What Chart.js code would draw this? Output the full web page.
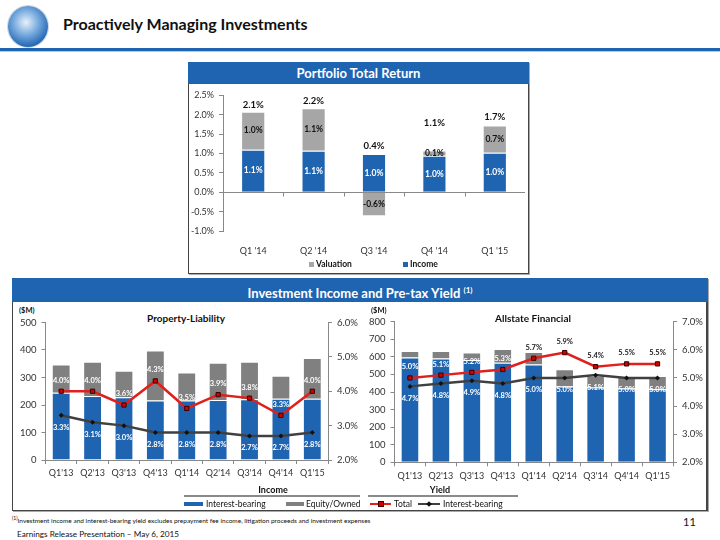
<!DOCTYPE html>
<html>
<head>
<meta charset="utf-8">
<script src="https://cdn.jsdelivr.net/npm/chart.js@4.4.1/dist/chart.umd.min.js"></script>
<style>
body { margin: 0; width: 720px; height: 540px; position: relative; background: #fff; font-family: Lato, sans-serif; overflow: hidden; color: #111; }
.abs { position: absolute; }
.band { background: #1F64B0; color: #fff; font-weight: bold; font-size: 13px; text-align: center; }
.box { border: 1px solid #444; box-shadow: 1px 1px 0 #aaa; }
.lbl { font-size: 8.5px; white-space: nowrap; line-height: 10px; }
.ctitle { font-weight: bold; font-size: 10px; white-space: nowrap; }
</style>
</head>
<body>

<div class="abs" style="left:8px;top:6px;width:40px;height:41px;border-radius:50%;background:radial-gradient(circle at 45% 40%, #e8f1fb 0%, #7fb0e0 35%, #2a6db8 70%, #17508f 100%);box-shadow:0 0 0 1px #c9d6e4;"></div>
<div class="abs" style="left:63px;top:14px;font-size:16px;font-weight:bold;white-space:nowrap;">Proactively Managing Investments</div>
<div class="abs" style="left:0;top:48px;width:720px;height:3px;background:#1F64B0"></div>
<div class="abs" style="left:0;top:51px;width:720px;height:1px;background:#c8c8c8"></div>

<!-- portfolio total return -->
<div class="abs box" style="left:188px;top:62px;width:339px;height:210px;"></div>
<div class="abs band" style="left:188px;top:62px;width:341px;height:22px;line-height:22px;">Portfolio Total Return</div>
<canvas id="returnChart" class="abs" style="left:190px;top:85px" width="337" height="187"></canvas>
<div class="abs" style="left:309px;top:262px;width:5px;height:5px;background:#A6A6A6"></div>
<div class="abs lbl" style="left:316px;top:259px;font-weight:bold;">Valuation</div>
<div class="abs" style="left:403px;top:262px;width:5px;height:5px;background:#1F64B0"></div>
<div class="abs lbl" style="left:410px;top:259px;font-weight:bold;">Income</div>

<!-- investment income and yield -->
<div class="abs box" style="left:12px;top:278px;width:693px;height:231px;border-right-width:2px;"></div>
<div class="abs band" style="left:12px;top:278px;width:696px;height:24px;line-height:24px;">Investment Income and Pre-tax Yield <sup style="font-size:8px;">(1)</sup></div>

<div class="abs" style="left:19px;top:306px;font-size:7.5px;font-weight:bold;">($M)</div>
<div class="abs ctitle" style="left:186px;top:312px;transform:translateX(-50%);">Property-Liability</div>
<canvas id="plChart" class="abs" style="left:14px;top:303px" width="350" height="183"></canvas>

<div class="abs" style="left:371px;top:306px;font-size:7.5px;font-weight:bold;">($M)</div>
<div class="abs ctitle" style="left:533px;top:312px;transform:translateX(-50%);">Allstate Financial</div>
<canvas id="afChart" class="abs" style="left:362px;top:303px" width="344" height="186"></canvas>

<div class="abs" style="left:273px;top:484px;transform:translateX(-50%);font-size:9px;font-weight:bold;">Income</div>
<div class="abs" style="left:184px;top:495px;width:176px;height:2px;background:#8a8a8a"></div>
<div class="abs" style="left:440px;top:484px;transform:translateX(-50%);font-size:9px;font-weight:bold;">Yield</div>
<div class="abs" style="left:368px;top:495px;width:150px;height:2px;background:#8a8a8a"></div>

<div class="abs" style="left:184px;top:502px;width:19px;height:4px;background:#1F64B0"></div>
<div class="abs lbl" style="left:206px;top:499px;">Interest-bearing</div>
<div class="abs" style="left:286px;top:502px;width:18px;height:4px;background:#808080"></div>
<div class="abs lbl" style="left:306px;top:499px;">Equity/Owned</div>
<div class="abs" style="left:370px;top:503px;width:21px;height:2px;background:#E0201B"></div>
<div class="abs" style="left:378px;top:501px;width:4px;height:4px;background:#D00000;border:1px solid #400"></div>
<div class="abs lbl" style="left:394px;top:499px;">Total</div>
<div class="abs" style="left:418px;top:503px;width:22px;height:2px;background:#404040"></div>
<div class="abs" style="left:427px;top:502px;width:4px;height:4px;background:#111;transform:rotate(45deg)"></div>
<div class="abs lbl" style="left:443px;top:499px;">Interest-bearing</div>

<div class="abs" style="left:12px;top:515px;font-size:6.5px;white-space:nowrap;"><sup style="font-size:5px;">(1)</sup>Investment income and interest-bearing yield excludes prepayment fee income, litigation proceeds and investment expenses</div>
<div class="abs" style="left:683px;top:515px;font-size:11px;">11</div>
<div class="abs" style="left:17px;top:529px;font-size:8.2px;white-space:nowrap;">Earnings Release Presentation – May 6, 2015</div>

<script>
// portfolio total return (%)
var returnQuarters = ["Q1 '14", "Q2 '14", "Q3 '14", "Q4 '14", "Q1 '15"];
var incomeReturn = [1.10, 1.07, 0.99, 0.94, 1.02];
var valuationReturn = [0.98, 1.10, -0.62, 0.14, 0.70];
var incomeLabels = ['1.1%', '1.1%', '1.0%', '1.0%', '1.0%'];
var valuationLabels = ['1.0%', '1.1%', '-0.6%', '0.1%', '0.7%'];
var totalLabels = ['2.1%', '2.2%', '0.4%', '1.1%', '1.7%'];

// investment income ($M) and yield (%)
var yieldQuarters = ["Q1'13", "Q2'13", "Q3'13", "Q4'13", "Q1'14", "Q2'14", "Q3'14", "Q4'14", "Q1'15"];
var plInterestIncome = [245, 233, 228, 216, 216, 218, 221, 223, 223];
var plEquityIncome = [102, 124, 97, 182, 102, 136, 136, 83, 148];
var plTotalYield = [4.0, 4.0, 3.6, 4.3, 3.5, 3.9, 3.8, 3.3, 4.0];
var plInterestYield = [3.3, 3.1, 3.0, 2.8, 2.8, 2.8, 2.7, 2.7, 2.8];
var afInterestIncome = [597, 590, 582, 567, 556, 432, 426, 420, 415];
var afEquityIncome = [36, 43, 43, 78, 71, 97, 66, 70, 76];
var afTotalYield = [5.0, 5.1, 5.2, 5.3, 5.7, 5.9, 5.4, 5.5, 5.5];
var afInterestYield = [4.7, 4.8, 4.9, 4.8, 5.0, 5.0, 5.1, 5.0, 5.0];

var BLUE = '#1F64B0';
var AXIS = '#888888';
Chart.defaults.font.family = 'Lato';
Chart.defaults.color = '#333';
Chart.defaults.animation = false;

function pct(v) { return v.toFixed(1) + '%'; }

// writes value text on bars and points, plus stack totals
var textPlugin = {
    id: 'textPlugin',
    afterDatasetsDraw: function(chart, args, opts) {
        var ctx = chart.ctx;
        chart.data.datasets.forEach(function(ds, di) {
            var t = ds.valueText;
            if (!t) return;
            var meta = chart.getDatasetMeta(di);
            ctx.save();
            ctx.font = t.font;
            ctx.textAlign = 'center';
            ctx.textBaseline = 'middle';
            meta.data.forEach(function(el, i) {
                var y = t.centered ? (el.y + el.base) / 2 : el.y + t.dy;
                ctx.fillStyle = Array.isArray(t.color) ? t.color[i] : t.color;
                ctx.fillText(t.texts[i], el.x, y);
            });
            ctx.restore();
        });
        if (opts && opts.totals) {
            ctx.save();
            ctx.font = opts.font;
            ctx.fillStyle = '#111';
            ctx.textAlign = 'center';
            ctx.textBaseline = 'middle';
            opts.totals.forEach(function(txt, i) {
                var top = Infinity, x = 0;
                chart.data.datasets.forEach(function(ds, di) {
                    var el = chart.getDatasetMeta(di).data[i];
                    top = Math.min(top, el.y, el.base);
                    x = el.x;
                });
                ctx.fillText(txt, x, top - opts.lift - (opts.extraLift[i] || 0));
            });
            ctx.restore();
        }
    }
};

// zero line with category ticks for the return chart
var zeroLinePlugin = {
    id: 'zeroLine',
    beforeDatasetsDraw: function(chart) {
        var xs = chart.scales.x, ys = chart.scales.y, ctx = chart.ctx;
        var y0 = Math.round(ys.getPixelForValue(0)) + 0.5;
        ctx.save();
        ctx.strokeStyle = AXIS;
        ctx.lineWidth = 1;
        ctx.beginPath();
        ctx.moveTo(chart.chartArea.left, y0);
        ctx.lineTo(chart.chartArea.right, y0);
        for (var i = 1; i < chart.data.labels.length; i++) {
            var bx = Math.round((xs.getPixelForValue(i - 1) + xs.getPixelForValue(i)) / 2) + 0.5;
            ctx.moveTo(bx, y0);
            ctx.lineTo(bx, y0 + 4);
        }
        ctx.stroke();
        ctx.restore();
    }
};

new Chart(document.getElementById('returnChart'), {
    type: 'bar',
    data: {
        labels: returnQuarters,
        datasets: [{
            label: 'Income',
            data: incomeReturn,
            backgroundColor: BLUE,
            borderColor: 'rgba(255,255,255,0.9)',
            borderWidth: 1,
            barPercentage: 0.4,
            categoryPercentage: 1,
            valueText: { texts: incomeLabels, centered: true, font: 'bold 8.5px Lato', color: '#fff' }
        }, {
            label: 'Valuation',
            data: valuationReturn,
            backgroundColor: '#A6A6A6',
            borderColor: 'rgba(255,255,255,0.9)',
            borderWidth: 1,
            barPercentage: 0.4,
            categoryPercentage: 1,
            valueText: { texts: valuationLabels, centered: true, font: 'bold 8.5px Lato', color: '#111' }
        }]
    },
    options: {
        responsive: false,
        layout: { padding: { left: 0, right: 2, top: 10, bottom: 0 } },
        plugins: {
            legend: { display: false },
            tooltip: { enabled: false },
            textPlugin: { totals: totalLabels, font: 'bold 9.5px Lato', lift: 7, extraLift: [0, 0, 1, 20, 2] }
        },
        scales: {
            x: {
                stacked: true,
                grid: { display: false },
                border: { display: false },
                ticks: { padding: 7, font: { size: 9 }, color: '#333' },
                afterFit: function(s) { s.height = 41; }
            },
            y: {
                stacked: true,
                min: -1,
                max: 2.5,
                ticks: { stepSize: 0.5, padding: 5, font: { size: 9 }, color: '#333', callback: function(v) { return pct(v); } },
                grid: { drawOnChartArea: false, drawTicks: true, tickLength: 4, color: AXIS },
                border: { display: true, color: AXIS },
                afterFit: function(s) { s.width = 33; }
            }
        }
    },
    plugins: [zeroLinePlugin, textPlugin]
});

function yieldChart(id, interest, equity, totalYield, interestYield, leftMax, rightMax, leftW, rightW, topPad, xH, totalColors) {
    return new Chart(document.getElementById(id), {
        type: 'bar',
        data: {
            labels: yieldQuarters,
            datasets: [{
                type: 'line',
                label: 'Total',
                data: totalYield,
                yAxisID: 'y1',
                order: 0,
                borderColor: '#E0201B',
                borderWidth: 2.5,
                pointStyle: 'rect',
                pointRadius: 3,
                pointBackgroundColor: '#D00000',
                pointBorderColor: '#3a0000',
                pointBorderWidth: 1,
                valueText: { texts: totalYield.map(pct), dy: -11, font: 'bold 7.5px Lato', color: totalColors }
            }, {
                type: 'line',
                label: 'Interest-bearing yield',
                data: interestYield,
                yAxisID: 'y1',
                order: 0,
                borderColor: '#404040',
                borderWidth: 2.5,
                pointStyle: 'rectRot',
                pointRadius: 2.5,
                pointBackgroundColor: '#111',
                pointBorderColor: '#111',
                pointBorderWidth: 0,
                valueText: { texts: interestYield.map(pct), dy: 12, font: 'bold 7.5px Lato', color: '#fff' }
            }, {
                label: 'Interest-bearing',
                data: interest,
                backgroundColor: BLUE,
                borderColor: 'rgba(255,255,255,0.9)',
                borderWidth: 1,
                order: 1,
                barPercentage: 0.6,
                categoryPercentage: 1
            }, {
                label: 'Equity/Owned',
                data: equity,
                backgroundColor: '#808080',
                borderColor: 'rgba(255,255,255,0.9)',
                borderWidth: 1,
                order: 1,
                barPercentage: 0.6,
                categoryPercentage: 1
            }]
        },
        options: {
            responsive: false,
            layout: { padding: { left: 0, right: 0, top: topPad, bottom: 0 } },
            plugins: { legend: { display: false }, tooltip: { enabled: false } },
            scales: {
                x: {
                    stacked: true,
                    grid: { drawOnChartArea: false, drawTicks: true, tickLength: 4, color: AXIS },
                    border: { display: true, color: AXIS },
                    ticks: { padding: 4, font: { size: 9 }, color: '#333', maxRotation: 0 },
                    afterFit: function(s) { s.height = xH; }
                },
                y: {
                    stacked: true,
                    min: 0,
                    max: leftMax,
                    ticks: { stepSize: 100, padding: 5, font: { size: 9.5 }, color: '#333' },
                    grid: { drawOnChartArea: false, drawTicks: true, tickLength: 4, color: AXIS },
                    border: { display: true, color: AXIS },
                    afterFit: function(s) { s.width = leftW; }
                },
                y1: {
                    position: 'right',
                    min: 2,
                    max: rightMax,
                    ticks: { stepSize: 1, padding: 5, font: { size: 9.5 }, color: '#333', callback: function(v) { return pct(v); } },
                    grid: { drawOnChartArea: false, drawTicks: true, tickLength: 4, color: AXIS },
                    border: { display: true, color: AXIS },
                    afterFit: function(s) { s.width = rightW; }
                }
            }
        },
        plugins: [textPlugin]
    });
}

yieldChart('plChart', plInterestIncome, plEquityIncome, plTotalYield, plInterestYield,
    500, 6, 31.5, 36, 19.5, 26, '#fff');
yieldChart('afChart', afInterestIncome, afEquityIncome, afTotalYield, afInterestYield,
    800, 7, 32.5, 33, 18.7, 26.7, ['#fff', '#fff', '#fff', '#fff', '#222', '#222', '#222', '#222', '#222']);
</script>
</body>
</html>
